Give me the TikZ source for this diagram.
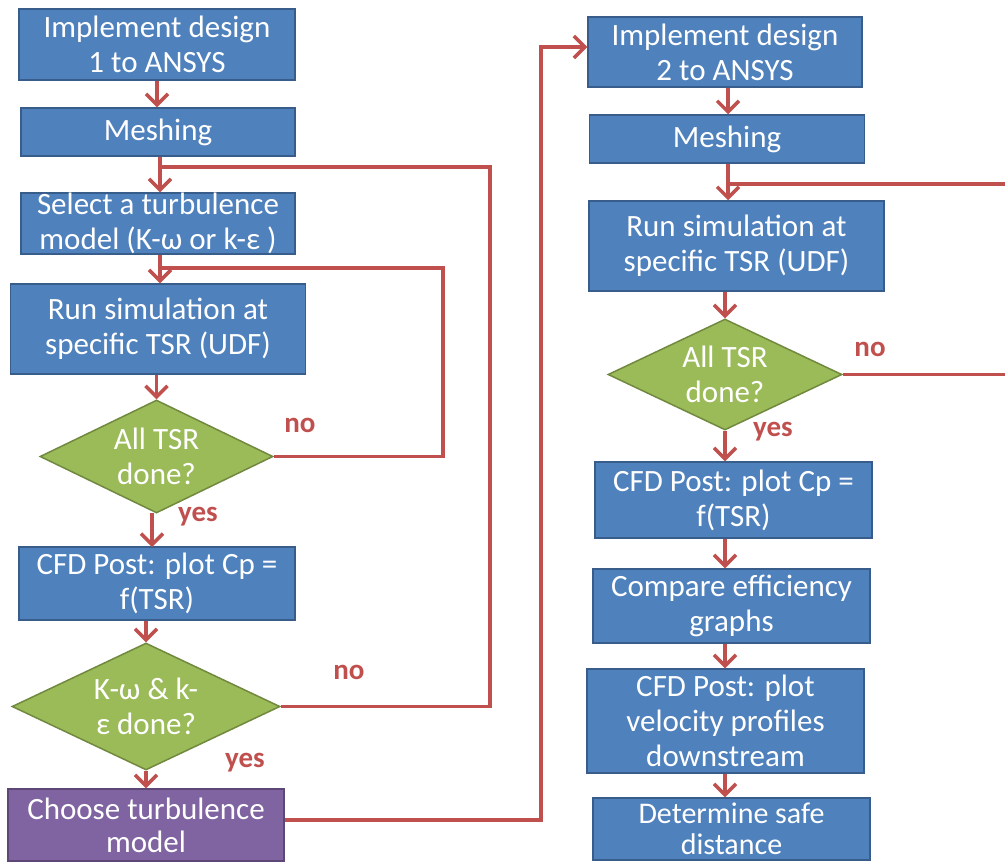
\documentclass[tikz,border=0pt]{standalone}
\usepackage{fontspec}
\setmainfont{Carlito}
\usetikzlibrary{arrows.meta,shapes.geometric}
\definecolor{boxblue}{HTML}{4F81BD}
\definecolor{boxedge}{HTML}{385D8A}
\definecolor{dgreen}{HTML}{9BBB59}
\definecolor{dedge}{HTML}{71893F}
\definecolor{purp}{HTML}{8064A2}
\definecolor{purpedge}{HTML}{5C4776}
\definecolor{linered}{HTML}{C0504D}
\begin{document}
\begin{tikzpicture}[x=1pt,y=-1pt,
  every node/.style={font=\fontsize{31}{35}\selectfont, text=white, align=center, inner sep=0pt},
  stepbox/.style={rectangle, draw=boxedge, fill=boxblue, line width=1.5pt},
  choicebox/.style={rectangle, draw=purpedge, fill=purp, line width=1.5pt},
  decide/.style={diamond, draw=dedge, fill=dgreen, line width=1.5pt, inner sep=-5pt},
  lbl/.style={font=\fontsize{29}{30}\selectfont\bfseries, text=linered},
  arr/.style={draw=linered, line width=3.5pt, -{Straight Barb[length=11pt,width=22pt,line width=3.5pt]}},
  loopline/.style={draw=linered, line width=3.5pt, line join=miter}
]
\useasboundingbox (0,0) rectangle (1005,863);
\fill[white] (0,0) rectangle (1005,863);
\clip (0,0) rectangle (1005,863);

% left column
\node[stepbox, minimum width=276pt, minimum height=71pt] (b1) at (157,44.5) {Implement design\\1 to ANSYS};
\node[stepbox, minimum width=274pt, minimum height=48pt] (b2) at (158,132) {Meshing};
\node[stepbox, minimum width=274pt, minimum height=61pt] (b3) at (158,223.5) {Select a turbulence\\model (K-ω or k-ε )};
\node[stepbox, minimum width=295pt, minimum height=90pt] (b4) at (158,329) {Run simulation at\\specific TSR (UDF)};
\node[decide, minimum width=233pt, minimum height=113pt, aspect=2.06] (d1) at (156.5,456.5) {All TSR\\done?};
\node[stepbox, minimum width=276pt, minimum height=73pt] (b5) at (157,583.5) {CFD Post: plot Cp =\\f(TSR)};
\node[decide, minimum width=268pt, minimum height=127pt, aspect=2.1] (d2) at (146,706.5) {K-ω \& k-\\ε done?};
\node[choicebox, minimum width=276pt, minimum height=72pt, font=\fontsize{31}{33}\selectfont] (b6) at (146,825) {Choose turbulence\\model};

% right column
\node[stepbox, minimum width=274pt, minimum height=70pt] (b7) at (725,52) {Implement design\\2 to ANSYS};
\node[stepbox, minimum width=275pt, minimum height=48pt] (b8) at (727,139) {Meshing};
\node[stepbox, minimum width=295pt, minimum height=90pt] (b9) at (736.5,246) {Run simulation at\\specific TSR (UDF)};
\node[decide, minimum width=234pt, minimum height=111pt, aspect=2.1] (d3) at (725,374.5) {All TSR\\done?};
\node[stepbox, minimum width=277pt, minimum height=76pt] (b10) at (733.5,500) {CFD Post: plot Cp =\\f(TSR)};
\node[stepbox, minimum width=277pt, minimum height=74pt] (b11) at (731.5,606) {Compare efficiency\\graphs};
\node[stepbox, minimum width=277pt, minimum height=104pt] (b12) at (725.5,721) {CFD Post: plot\\velocity profiles\\downstream};
\node[stepbox, minimum width=277pt, minimum height=62pt, font=\fontsize{30}{31}\selectfont] (b13) at (731.5,829) {Determine safe\\distance};

% labels
\node[lbl] (no1) at (300,425) {no};
\node[lbl] (yes1) at (198,517) {yes};
\node[lbl] (no2) at (349,672) {no};
\node[lbl] (yes2) at (245,763) {yes};
\node[lbl] (no3) at (870,349) {no};
\node[lbl] (yes3) at (773,432) {yes};

% junction points
\coordinate (j1) at (160,167);
\coordinate (j2) at (160,268);
\coordinate (j3) at (728,184);
\coordinate (c1) at (541,47);

% left arrows
\draw[arr] (b1.south) -- (b1.south |- b2.north);
\draw[arr] (j1 |- b2.south) -- (j1 |- b3.north);
\draw[arr] (j2 |- b3.south) -- (j2 |- b4.north);
\draw[arr] (d1.north |- b4.south) -- (d1.north);
\draw[arr] (152,513) -- (152,547);
\draw[arr] (d2.north |- b5.south) -- (d2.north);
\draw[arr] (d2.south) -- (d2.south |- b6.north);

% loops
\draw[loopline] (d1.east) -| (443,268) -- (j2);
\draw[loopline] (d2.east) -| (490,167) -- (j1);
\draw[loopline] (d3.east) -| (1030,184) -- (j3);
\draw[arr] ([yshift=5pt]b6.east) -| (c1) -- (b7.west |- c1);

% right arrows
\draw[arr] (j3 |- b7.south) -- (j3 |- b8.north);
\draw[arr] (j3 |- b8.south) -- (j3 |- b9.north);
\draw[arr] (d3.north |- b9.south) -- (d3.north);
\draw[arr] (d3.south) -- (d3.south |- b10.north);
\draw[arr] (d3.south |- b10.south) -- (d3.south |- b11.north);
\draw[arr] (d3.south |- b11.south) -- (d3.south |- b12.north);
\draw[arr] (d3.south |- b12.south) -- (d3.south |- b13.north);
\end{tikzpicture}
\end{document}
